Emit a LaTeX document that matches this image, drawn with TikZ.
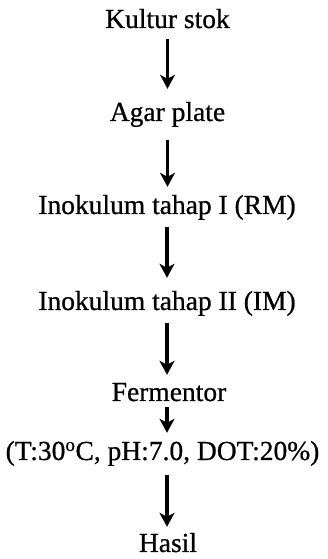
\documentclass[tikz,border=0pt]{standalone}
\usepackage{fontspec}
\setmainfont{Liberation Serif}[FakeBold=0.7]
\usetikzlibrary{arrows.meta}
\begin{document}
\begin{tikzpicture}[x=1pt,y=1pt,
  stage/.style={inner sep=0pt, anchor=base, text height=17pt, text depth=6pt,
    font=\fontsize{27.5}{31}\selectfont},
  flow/.style={line width=3.2pt, -{Stealth[length=14pt,width=15pt,inset=4pt]}}]
\useasboundingbox (0,0) rectangle (328,559);
% process stages, placed by baseline
\node[stage] (kultur) at (167.5,559-28)  {Kultur stok};
\node[stage] (agar)   at (167.5,559-121) {Agar plate};
\node[stage] (rm)     at (167,559-214)   {Inokulum tahap I (RM)};
\node[stage] (im)     at (167,559-310)   {Inokulum tahap II (IM)};
\node[stage] (ferm)   at (169,559-401)   {Fermentor};
\node[stage] (cond)   at (162.5,559-460) {(T:30\textsuperscript{o}C, pH:7.0, DOT:20\%)};
\node[stage] (hasil)  at (168,559-552)   {Hasil};
% connecting arrows, kept on the common vertical axis
\draw[flow, shorten <=5pt,  shorten >=15pt] (kultur.south) -- (kultur.south |- agar.north);
\draw[flow, shorten <=13pt, shorten >=10pt] (agar.south)   -- (agar.south |- rm.north);
\draw[flow, shorten <=7pt,  shorten >=15pt] (rm.south)     -- (rm.south |- im.north);
\draw[flow, shorten <=7pt,  shorten >=9pt]  (im.south)     -- (im.south |- ferm.north);
\draw[flow, shorten <=0pt,  shorten >=10pt] ([xshift=-2pt]ferm.south) -- ([xshift=-2pt]ferm.south |- cond.north);
\draw[flow, shorten <=9pt,  shorten >=8pt]  ([xshift=-2pt]ferm.south |- cond.south) -- ([xshift=-2pt]ferm.south |- hasil.north);
\end{tikzpicture}
\end{document}
